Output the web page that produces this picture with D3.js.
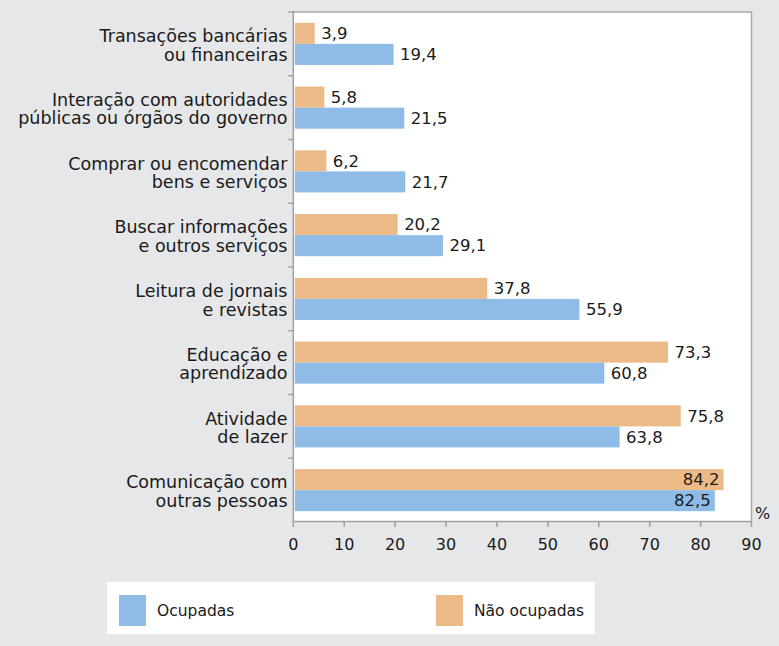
<!DOCTYPE html>
<html><head><meta charset="utf-8">
<script src="https://cdn.jsdelivr.net/npm/d3@7"></script>
<style>
html,body{margin:0;padding:0;background:#e6e7e9;}
svg{display:block;}
text{font-family:"DejaVu Sans",sans-serif;fill:#1a1a1a;}
</style></head>
<body>
<svg id="chart" width="779" height="646"></svg>
<script>
const categories = [
  ["Transações bancárias","ou financeiras"],
  ["Interação com autoridades","públicas ou órgãos do governo"],
  ["Comprar ou encomendar","bens e serviços"],
  ["Buscar informações","e outros serviços"],
  ["Leitura de jornais","e revistas"],
  ["Educação e","aprendizado"],
  ["Atividade","de lazer"],
  ["Comunicação com","outras pessoas"]
];
const ocupadas    = [19.4, 21.5, 21.7, 29.1, 55.9, 60.8, 63.8, 82.5];
const naoOcupadas = [3.9, 5.8, 6.2, 20.2, 37.8, 73.3, 75.8, 84.2];
const xTicks = [0,10,20,30,40,50,60,70,80,90];
const seriesNames = ["Ocupadas","Não ocupadas"];
const colors = {ocup:"#8ebce6", nao:"#ecba86"};

(function(){
const svg = d3.select("#chart");
const pL = 293.3, pR = 751.5, pT = 12, pB = 522;
const x = d3.scaleLinear().domain([0,90]).range([pL,pR]);
const idx = categories.map((d,i)=>i);
const y = d3.scaleBand().domain(idx).range([pT,pB]).paddingInner(0.34).paddingOuter(0.17);
const bw = y.bandwidth()/2;
const gap = (y.step()-y.bandwidth())/2;

svg.append("rect").attr("x",pL).attr("y",pT).attr("width",pR-pL).attr("height",pB-pT-0.5)
  .attr("fill","#fff");
svg.append("path").attr("d",`M${pL},${pT}H${pR}V${pB-0.5}`).attr("fill","none")
  .attr("stroke","#a9a9a9").attr("stroke-width",1.5);

const g = svg.append("g");
g.selectAll(".nao").data(naoOcupadas).join("rect")
  .attr("x",x(0)+1.5).attr("y",(d,i)=>y(i)).attr("width",d=>x(d)-x(0)).attr("height",bw)
  .attr("fill",colors.nao);
g.selectAll(".ocup").data(ocupadas).join("rect")
  .attr("x",x(0)+1.5).attr("y",(d,i)=>y(i)+bw).attr("width",d=>x(d)-x(0)).attr("height",bw)
  .attr("fill",colors.ocup);

function fmt(v){return v.toFixed(1).replace(".",",");}
function valueLabels(data, off){
  g.selectAll(null).data(data).join("text")
    .attr("x",d=> d>80 ? x(d)-2.5 : x(d)+8)
    .attr("y",(d,i)=>y(i)+off+bw/2+5.8)
    .attr("text-anchor",d=> d>80 ? "end":"start")
    .style("font-size","16.5px")
    .text(fmt);
}
valueLabels(naoOcupadas,0);
valueLabels(ocupadas,bw);

svg.append("line").attr("x1",pL).attr("x2",pL).attr("y1",pT-1).attr("y2",pB)
  .attr("stroke","#a0a0a0").attr("stroke-width",1.5);
const bounds = idx.map(i=>y(i)-gap);
svg.selectAll(null).data(bounds).join("line")
  .attr("x1",pL-5).attr("x2",pL).attr("y1",d=>d).attr("y2",d=>d)
  .attr("stroke","#a0a0a0").attr("stroke-width",1.5);

const lab = svg.append("g");
categories.forEach((c,i)=>{
  const b = y(i)-gap;
  const t = lab.append("text").attr("text-anchor","end").style("font-size","17.5px");
  t.append("tspan").attr("x",287.5).attr("y",b+30).text(c[0]);
  t.append("tspan").attr("x",287.5).attr("y",b+48.5).text(c[1]);
});

const axisY = 521.5;
svg.append("line").attr("x1",pL).attr("x2",pR).attr("y1",axisY).attr("y2",axisY)
  .attr("stroke","#a0a0a0").attr("stroke-width",1.5);
svg.selectAll(null).data(xTicks).join("line")
  .attr("x1",d=>x(d)).attr("x2",d=>x(d)).attr("y1",axisY).attr("y2",axisY+5.5)
  .attr("stroke","#a0a0a0").attr("stroke-width",1.5);
svg.selectAll(null).data(xTicks).join("text")
  .attr("x",d=>x(d)).attr("y",550).attr("text-anchor","middle").style("font-size","16px")
  .text(d=>d);
svg.append("text").attr("x",755).attr("y",519).style("font-size","16px").text("%");

svg.append("rect").attr("x",107).attr("y",582).attr("width",488).attr("height",52).attr("fill","#fff");
const leg = [{x:119,name:seriesNames[0],c:colors.ocup},{x:436,name:seriesNames[1],c:colors.nao}];
leg.forEach(l=>{
  svg.append("rect").attr("x",l.x).attr("y",595).attr("width",27).attr("height",31).attr("fill",l.c);
  svg.append("text").attr("x",l.x+38).attr("y",616).style("font-size","15.5px").text(l.name);
});
})();
</script>
</body></html>
